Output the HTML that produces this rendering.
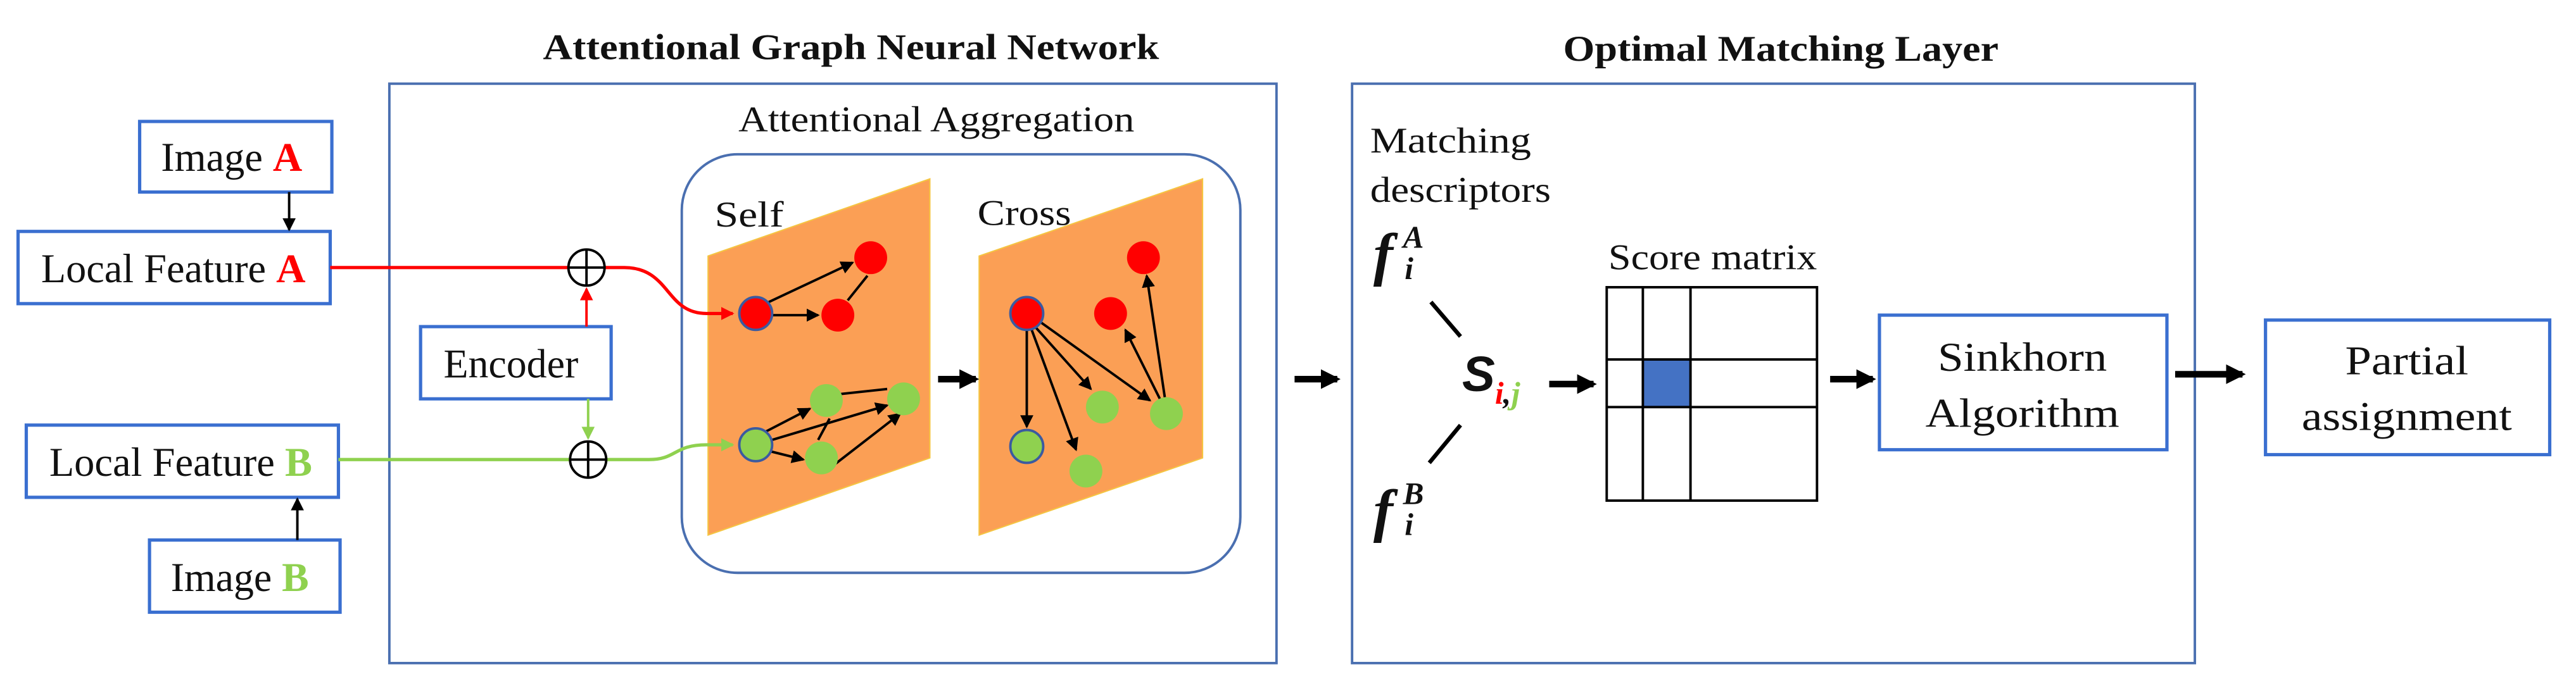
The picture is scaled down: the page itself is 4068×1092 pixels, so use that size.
<!DOCTYPE html>
<html><head><meta charset="utf-8"><style>
html,body{margin:0;padding:0;background:#fff;}
svg{display:block;}
text{font-family:"Liberation Serif",serif;fill:#111;}
</style></head><body>
<svg width="4068" height="1092" viewBox="0 0 1568 421" preserveAspectRatio="none" xmlns="http://www.w3.org/2000/svg">
<defs>
<marker id="ab" markerWidth="8" markerHeight="8" refX="7" refY="4" orient="auto" markerUnits="userSpaceOnUse"><path d="M0,0 L8,4 L0,8 z" fill="#000"/></marker>
<marker id="ar" markerWidth="8" markerHeight="8" refX="7" refY="4" orient="auto" markerUnits="userSpaceOnUse"><path d="M0,0 L8,4 L0,8 z" fill="#f00"/></marker>
<marker id="ag" markerWidth="8" markerHeight="8" refX="7" refY="4" orient="auto" markerUnits="userSpaceOnUse"><path d="M0,0 L8,4 L0,8 z" fill="#8fd14f"/></marker>
<marker id="big" markerWidth="14" markerHeight="14" refX="10" refY="7" orient="auto" markerUnits="userSpaceOnUse"><path d="M0,1 L12,7 L0,13 z" fill="#000"/></marker>
</defs>

<text x="518" y="36" font-size="22" font-weight="bold" text-anchor="middle" textLength="375" lengthAdjust="spacingAndGlyphs">Attentional Graph Neural Network</text>
<text x="1084" y="37" font-size="22" font-weight="bold" text-anchor="middle" textLength="265" lengthAdjust="spacingAndGlyphs">Optimal Matching Layer</text>

<rect x="237" y="51" width="540" height="353" fill="none" stroke="#4a6fb0" stroke-width="1.5"/>
<rect x="823" y="51" width="513" height="353" fill="none" stroke="#4a6fb0" stroke-width="1.5"/>

<text x="570" y="80" font-size="22" text-anchor="middle" textLength="241" lengthAdjust="spacingAndGlyphs">Attentional Aggregation</text>
<rect x="415" y="94" width="340" height="255" rx="34" fill="none" stroke="#4a6fb0" stroke-width="1.5"/>

<polygon points="431,156 566,109 566,279 431,326" fill="#fb9f55" stroke="#f5c542" stroke-width="0.8"/>
<polygon points="596,156 732,109 732,279 596,326" fill="#fb9f55" stroke="#f5c542" stroke-width="0.8"/>
<text x="435" y="138" font-size="22" textLength="42" lengthAdjust="spacingAndGlyphs">Self</text>
<text x="595" y="137" font-size="22" textLength="57" lengthAdjust="spacingAndGlyphs">Cross</text>

<g stroke="#000" stroke-width="1.5" fill="none">
<line x1="468" y1="184" x2="519" y2="160" marker-end="url(#ab)"/>
<line x1="470" y1="192" x2="498" y2="192" marker-end="url(#ab)"/>
<line x1="528" y1="168" x2="516" y2="183"/>
<line x1="466" y1="263" x2="493" y2="249" marker-end="url(#ab)"/>
<line x1="469" y1="275" x2="489" y2="280" marker-end="url(#ab)"/>
<line x1="470" y1="268" x2="540" y2="247" marker-end="url(#ab)"/>
<line x1="512" y1="240" x2="540" y2="237"/>
<line x1="508" y1="283" x2="548" y2="252" marker-end="url(#ab)"/>
<line x1="498" y1="268" x2="505" y2="255"/>
</g>
<g stroke="#000" stroke-width="1.5" fill="none">
<line x1="625" y1="200" x2="625" y2="260" marker-end="url(#ab)"/>
<line x1="628" y1="201" x2="655" y2="274" marker-end="url(#ab)"/>
<line x1="630" y1="199" x2="664" y2="237" marker-end="url(#ab)"/>
<line x1="633" y1="196" x2="700" y2="244" marker-end="url(#ab)"/>
<line x1="706" y1="243" x2="685" y2="201" marker-end="url(#ab)"/>
<line x1="709" y1="242" x2="698" y2="168" marker-end="url(#ab)"/>
</g>

<g>
<ellipse cx="460" cy="191" rx="10" ry="10" fill="#f00" stroke="#3b5aa0" stroke-width="1.5"/>
<ellipse cx="530" cy="157" rx="10" ry="10" fill="#f00"/>
<ellipse cx="510" cy="192" rx="10" ry="10" fill="#f00"/>
<ellipse cx="460" cy="271" rx="10" ry="10" fill="#8fd14f" stroke="#3b5aa0" stroke-width="1.5"/>
<ellipse cx="503" cy="244" rx="10" ry="10" fill="#8fd14f"/>
<ellipse cx="500" cy="279" rx="10" ry="10" fill="#8fd14f"/>
<ellipse cx="550" cy="243" rx="10" ry="10" fill="#8fd14f"/>
<ellipse cx="625" cy="191" rx="10" ry="10" fill="#f00" stroke="#3b5aa0" stroke-width="1.5"/>
<ellipse cx="696" cy="157" rx="10" ry="10" fill="#f00"/>
<ellipse cx="676" cy="191" rx="10" ry="10" fill="#f00"/>
<ellipse cx="625" cy="272" rx="10" ry="10" fill="#8fd14f" stroke="#3b5aa0" stroke-width="1.5"/>
<ellipse cx="671" cy="248" rx="10" ry="10" fill="#8fd14f"/>
<ellipse cx="710" cy="252" rx="10" ry="10" fill="#8fd14f"/>
<ellipse cx="661" cy="287" rx="10" ry="10" fill="#8fd14f"/>
</g>
<line x1="571" y1="231" x2="594" y2="231" stroke="#000" stroke-width="4" marker-end="url(#big)"/>

<g fill="#fff" stroke="#3a6fd0" stroke-width="2">
<rect x="85" y="74" width="117" height="43"/>
<rect x="11" y="141" width="190" height="44"/>
<rect x="16" y="259" width="190" height="44"/>
<rect x="91" y="329" width="116" height="44"/>
<rect x="256" y="199" width="116" height="44"/>
</g>
<text x="98" y="104" font-size="25" textLength="86" lengthAdjust="spacingAndGlyphs">Image <tspan fill="#f00" font-weight="bold">A</tspan></text>
<text x="25" y="172" font-size="25" textLength="161" lengthAdjust="spacingAndGlyphs">Local Feature <tspan fill="#f00" font-weight="bold">A</tspan></text>
<text x="30" y="290" font-size="25" textLength="160" lengthAdjust="spacingAndGlyphs">Local Feature <tspan fill="#8fd14f" font-weight="bold">B</tspan></text>
<text x="104" y="360" font-size="25" textLength="84" lengthAdjust="spacingAndGlyphs">Image <tspan fill="#8fd14f" font-weight="bold">B</tspan></text>
<text x="270" y="230" font-size="25" textLength="82" lengthAdjust="spacingAndGlyphs">Encoder</text>

<line x1="176" y1="117" x2="176" y2="140" stroke="#000" stroke-width="1.5" marker-end="url(#ab)"/>
<line x1="181" y1="329" x2="181" y2="304" stroke="#000" stroke-width="1.5" marker-end="url(#ab)"/>

<path d="M201,163 L346,163 M368,163 L380,163 C408,163 405,191 430,191 L446,191" fill="none" stroke="#f00" stroke-width="2" marker-end="url(#ar)"/>
<path d="M206,280 L347,280 M369,280 L395,280 C412,280 410,271 430,271 L446,271" fill="none" stroke="#8fd14f" stroke-width="2" marker-end="url(#ag)"/>
<line x1="357" y1="199" x2="357" y2="176" stroke="#f00" stroke-width="1.5" marker-end="url(#ar)"/>
<line x1="358" y1="243" x2="358" y2="267" stroke="#8fd14f" stroke-width="1.5" marker-end="url(#ag)"/>
<g fill="none" stroke="#000" stroke-width="1.5">
<circle cx="357" cy="163" r="11"/><line x1="346" y1="163" x2="368" y2="163"/><line x1="357" y1="152" x2="357" y2="174"/>
<circle cx="358" cy="280" r="11"/><line x1="347" y1="280" x2="369" y2="280"/><line x1="358" y1="269" x2="358" y2="291"/>
</g>

<line x1="788" y1="231" x2="814" y2="231" stroke="#000" stroke-width="4" marker-end="url(#big)"/>

<text x="834" y="93" font-size="22" textLength="98" lengthAdjust="spacingAndGlyphs">Matching</text>
<text x="834" y="123" font-size="22" textLength="110" lengthAdjust="spacingAndGlyphs">descriptors</text>
<text x="836" y="167" font-size="36" font-weight="bold" font-style="italic">f</text>
<text x="854" y="151" font-size="19" font-weight="bold" font-style="italic">A</text>
<text x="855" y="170" font-size="19" font-weight="bold" font-style="italic">i</text>
<text x="836" y="323" font-size="36" font-weight="bold" font-style="italic">f</text>
<text x="854" y="307" font-size="19" font-weight="bold" font-style="italic">B</text>
<text x="855" y="326" font-size="19" font-weight="bold" font-style="italic">i</text>
<line x1="871" y1="184" x2="889" y2="205" stroke="#000" stroke-width="2.5"/>
<line x1="889" y1="259" x2="870" y2="282" stroke="#000" stroke-width="2.5"/>
<text x="890" y="238" font-size="30" font-weight="bold" font-style="italic" style="font-family:'Liberation Sans',sans-serif">S</text>
<text x="910" y="246" font-size="19" font-weight="bold" font-style="italic" style="fill:#f00">i</text>
<text x="915" y="246" font-size="19" font-weight="bold" font-style="italic">,</text>
<text x="920" y="246" font-size="19" font-weight="bold" font-style="italic" style="fill:#8fd14f">j</text>
<line x1="943" y1="234" x2="970" y2="234" stroke="#000" stroke-width="4" marker-end="url(#big)"/>

<text x="979" y="164" font-size="22" textLength="127" lengthAdjust="spacingAndGlyphs">Score matrix</text>
<rect x="1000" y="219" width="29" height="29" fill="#4472c4"/>
<g fill="none" stroke="#000" stroke-width="1.5">
<rect x="978" y="175" width="128" height="130"/>
<line x1="1000" y1="175" x2="1000" y2="305"/>
<line x1="1029" y1="175" x2="1029" y2="305"/>
<line x1="978" y1="219" x2="1106" y2="219"/>
<line x1="978" y1="248" x2="1106" y2="248"/>
</g>
<line x1="1114" y1="231" x2="1140" y2="231" stroke="#000" stroke-width="4" marker-end="url(#big)"/>

<rect x="1144" y="192" width="175" height="82" fill="#fff" stroke="#3a6fd0" stroke-width="2"/>
<text x="1231" y="226" font-size="25" text-anchor="middle" textLength="103" lengthAdjust="spacingAndGlyphs">Sinkhorn</text>
<text x="1231" y="260" font-size="25" text-anchor="middle" textLength="118" lengthAdjust="spacingAndGlyphs">Algorithm</text>
<line x1="1324" y1="228" x2="1365" y2="228" stroke="#000" stroke-width="4" marker-end="url(#big)"/>
<rect x="1379" y="195" width="173" height="82" fill="#fff" stroke="#3a6fd0" stroke-width="2"/>
<text x="1465" y="228" font-size="25" text-anchor="middle" textLength="75" lengthAdjust="spacingAndGlyphs">Partial</text>
<text x="1465" y="262" font-size="25" text-anchor="middle" textLength="128" lengthAdjust="spacingAndGlyphs">assignment</text>
</svg>
</body></html>
